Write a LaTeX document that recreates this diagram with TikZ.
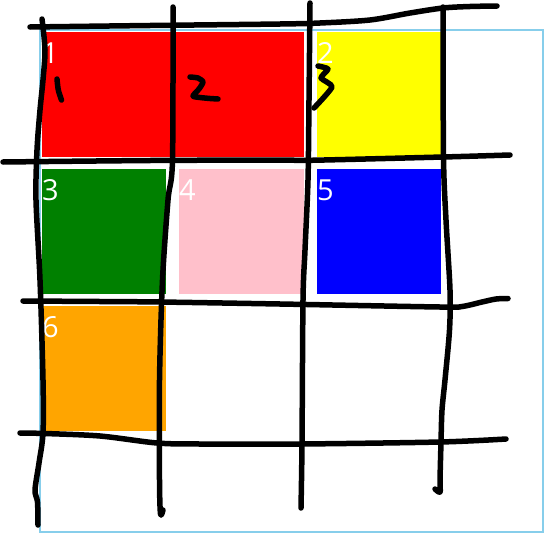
\documentclass[tikz,border=0pt]{standalone}
\usepackage{fontspec}
\setmainfont{Open Sans}
\definecolor{frameblue}{RGB}{135,206,235}
\definecolor{cred}{RGB}{255,0,0}
\definecolor{cyellow}{RGB}{255,255,0}
\definecolor{cgreen}{RGB}{0,128,0}
\definecolor{cpink}{RGB}{255,192,203}
\definecolor{cblue}{RGB}{0,0,255}
\definecolor{corange}{RGB}{255,165,0}
\begin{document}
\begin{tikzpicture}[x=1pt,y=-1pt,
  cell/.style={rectangle,draw=none,inner sep=0pt,outer sep=0pt,anchor=north west},
  lbl/.style={text=white,font=\fontsize{29}{30}\selectfont,inner sep=0pt,outer sep=0pt,anchor=base west},
  ink/.style={line width=5.5pt,line cap=round,line join=round,draw=black}]
\useasboundingbox (0,0) rectangle (551,538);
% frame
\draw[frameblue,line width=1.5pt] (40,30) rectangle (543,532);
% cells
\node[cell,fill=cred,minimum width=262pt,minimum height=125pt] (r1) at (42,32) {};
\node[cell,fill=cyellow,minimum width=124pt,minimum height=125pt] (r2) at (317,32) {};
\node[cell,fill=cgreen,minimum width=124pt,minimum height=125pt] (r3) at (42,169) {};
\node[cell,fill=cpink,minimum width=125pt,minimum height=125pt] (r4) at (179,169) {};
\node[cell,fill=cblue,minimum width=124pt,minimum height=125pt] (r5) at (317,169) {};
\node[cell,fill=corange,minimum width=124pt,minimum height=125pt] (r6) at (42,306) {};
% labels
\node[lbl] (l1) at ([yshift=-31.5pt]r1.north west) {1};
\node[lbl] (l2) at ([yshift=-31.5pt]r2.north west) {2};
\node[lbl] (l3) at ([yshift=-31.5pt]r3.north west) {3};
\node[lbl] (l4) at ([yshift=-31.5pt]r4.north west) {4};
\node[lbl] (l5) at ([yshift=-31.5pt]r5.north west) {5};
\node[lbl] (l6) at ([yshift=-31.5pt]r6.north west) {6};
% hand-drawn horizontal lines
\draw[ink] plot[smooth,tension=0.5] coordinates {(30,27) (150,25.5) (280,24) (320,23) (370,20) (410,13) (443,8) (470,6.5) (497,6)};
\draw[ink] plot[smooth,tension=0.5] coordinates {(3,162) (150,160.5) (280,160) (310,160.3) (443,157) (510,155)};
\draw[ink] plot[smooth,tension=0.5] coordinates {(23,301) (100,301.5) (160,302) (280,304) (440,307) (462,306.5) (482,302) (496,299) (508,298.5)};
\draw[ink] plot[smooth,tension=0.5] coordinates {(20,433) (45,433.5) (100,436) (157,443) (200,444) (300,444) (440,442) (506,439)};
% hand-drawn vertical lines
\draw[ink] plot[smooth,tension=0.5] coordinates {(42,19) (45,50) (43,80) (40,110) (37,150) (36,200) (40,280) (43,380) (43,433) (39,463) (35,490) (37.5,502) (38,525)};
\draw[ink] plot[smooth,tension=0.5] coordinates {(173,7) (172.5,160) (168,200) (162.5,280) (159.5,380) (159.5,480) (160.5,514) (163,510)};
\draw[ink] plot[smooth,tension=0.5] coordinates {(310,3) (309,100) (308,180) (305,250) (303,300) (302,444) (301,508)};
\draw[ink] plot[smooth,tension=0.5] coordinates {(443,7) (443.5,157) (446,220) (450,290) (449.5,330) (445,380) (442,410) (441,442) (440,480) (440,492) (435,489)};
% handwritten digits
\draw[ink] plot[smooth,tension=0.5] coordinates {(57,79) (58.3,90) (61.5,100)};
\draw[ink] plot[smooth,tension=0.4] coordinates {(190,77) (198,78) (203,82) (199,89) (193,96) (200,97.5) (210,98.5) (218,99)};
\draw[ink] plot[smooth,tension=0.35] coordinates {(318,66) (328,69) (321,78) (332,87) (314,108)};
\end{tikzpicture}
\end{document}
